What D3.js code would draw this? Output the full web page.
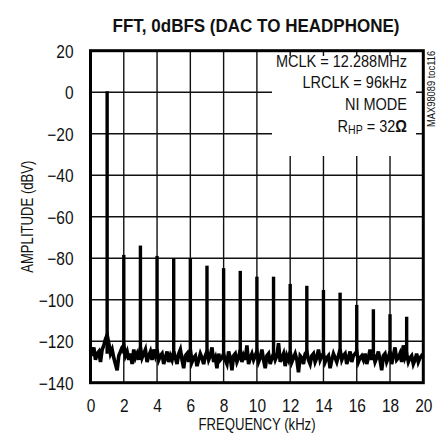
<!DOCTYPE html>
<html>
<head>
<meta charset="utf-8">
<script src="https://cdn.jsdelivr.net/npm/d3@7"></script>
<style>
  body { margin: 0; background: #fff; }
  svg text { font-family: "Liberation Sans", Arial, sans-serif; fill: #111; }
</style>
</head>
<body>
<svg id="chart" width="438" height="442"></svg>
<script>
// tick values
const freqTicks = [0, 2, 4, 6, 8, 10, 12, 14, 16, 18, 20];
const ampTicks = [20, 0, -20, -40, -60, -80, -100, -120, -140];

// fundamental + harmonics (kHz, dBV)
const toneFreqs = [1, 2, 3, 4, 5, 6, 7, 8, 9, 10, 11, 12, 13, 14, 15, 16, 17, 18, 19];
const toneLevels = [0.5, -78.4, -73.9, -78.9, -80, -80, -83.6, -84.8, -86.1, -88.9,
  -88.9, -92.4, -93.3, -95.3, -96.6, -102.5, -104.6, -107, -108.2];

// noise floor, one reading every 0.1 kHz from 0 to 20 kHz
const noiseFloor = [
  -124, -127, -123, -129, -126, -125, -130, -124, -122, -119,
  -117, -121, -126, -124, -128, -131, -134, -127, -125, -123,
  -122, -127, -125, -129, -126, -131, -124, -128, -126, -129,
  -123, -128, -126, -124, -130, -127, -125, -129, -124, -127,
  -124, -129, -127, -126, -131, -128, -125, -130, -127, -129,
  -125, -128, -131, -126, -124, -129, -133, -127, -126, -130,
  -124, -130, -128, -127, -132, -129, -126, -128, -131, -127,
  -125, -129, -127, -123, -130, -128, -133, -126, -129, -128,
  -126, -129, -131, -125, -128, -134, -127, -126, -130, -128,
  -124, -130, -127, -129, -122, -131, -128, -126, -129, -127,
  -125, -130, -128, -124, -129, -133, -127, -126, -131, -128,
  -126, -129, -127, -121, -130, -128, -126, -132, -127, -129,
  -125, -130, -128, -126, -129, -135, -127, -128, -131, -126,
  -125, -129, -131, -127, -126, -130, -128, -124, -129, -127,
  -126, -130, -128, -127, -133, -129, -126, -128, -130, -127,
  -124, -129, -127, -126, -131, -128, -125, -130, -127, -126,
  -125, -130, -128, -127, -129, -126, -131, -128, -124, -129,
  -126, -130, -128, -125, -129, -134, -127, -126, -130, -128,
  -125, -131, -127, -123, -129, -128, -126, -130, -122, -128,
  -126, -130, -128, -127, -131, -129, -126, -130, -128, -127,
  -128
];

const svg = d3.select("#chart");
const plotL = 90.5, plotR = 423.3, plotT = 50.7, plotB = 382.7;

const x = d3.scaleLinear().domain([0, 20]).range([plotL, plotR]);
const y = d3.scaleLinear().domain([-140, 20]).range([plotB, plotT]);

// condensed look: squeeze glyphs horizontally
function label(parent, px, py, txt, size, sx, anchor) {
  return parent.append("text")
    .attr("transform", `translate(${px},${py}) scale(${sx},1)`)
    .attr("text-anchor", anchor || "start")
    .style("font-size", size + "px")
    .text(txt);
}

// grid
svg.append("g")
  .selectAll("line")
  .data(freqTicks.slice(1, -1))
  .enter()
  .append("line")
  .attr("x1", d => x(d)).attr("x2", d => x(d))
  .attr("y1", plotT).attr("y2", plotB)
  .attr("stroke", "#111").attr("stroke-width", 1.4);

svg.append("g")
  .selectAll("line")
  .data(ampTicks.slice(1, -1))
  .enter()
  .append("line")
  .attr("x1", plotL).attr("x2", plotR)
  .attr("y1", d => y(d)).attr("y2", d => y(d))
  .attr("stroke", "#111").attr("stroke-width", 1.4);

// legend box hides the grid behind it
svg.append("rect")
  .attr("x", 272).attr("y", 56)
  .attr("width", 144).attr("height", 100)
  .attr("fill", "#fff");

// noise floor
const noiseLine = d3.line()
  .x((d, i) => x(i * 0.1))
  .y(d => y(d));

svg.append("path")
  .datum(noiseFloor)
  .attr("d", noiseLine)
  .attr("fill", "none")
  .attr("stroke", "#000")
  .attr("stroke-width", 3.6)
  .attr("stroke-linejoin", "miter");

// tones
svg.append("g")
  .selectAll("line")
  .data(toneFreqs)
  .enter()
  .append("line")
  .attr("x1", d => x(d)).attr("x2", d => x(d))
  .attr("y1", y(-126))
  .attr("y2", (d, i) => y(toneLevels[i]))
  .attr("stroke", "#000")
  .attr("stroke-width", 3.4);

// frame
svg.append("rect")
  .attr("x", plotL).attr("y", plotT)
  .attr("width", plotR - plotL).attr("height", plotB - plotT)
  .attr("fill", "none")
  .attr("stroke", "#000")
  .attr("stroke-width", 3);

// axes labels
const xAxis = svg.append("g")
  .attr("transform", `translate(0,${plotB})`)
  .call(d3.axisBottom(x).tickValues(freqTicks).tickSize(0).tickPadding(0));
xAxis.select(".domain").remove();
xAxis.selectAll("text")
  .attr("y", null).attr("dy", null)
  .attr("transform", "translate(0,29.5) scale(0.86,1)")
  .style("font-size", "18px");

const yAxis = svg.append("g")
  .attr("transform", `translate(${plotL},0)`)
  .call(d3.axisLeft(y).tickValues(ampTicks).tickSize(0).tickPadding(0));
yAxis.select(".domain").remove();
yAxis.selectAll("text")
  .attr("x", null).attr("dy", null)
  .attr("transform", "translate(-17,6.5) scale(0.86,1)")
  .style("font-size", "18px");

// titles
label(svg, 256, 31.7, "FFT, 0dBFS (DAC TO HEADPHONE)", 18.6, 0.915, "middle")
  .style("font-weight", "bold");

label(svg, 257, 430, "FREQUENCY (kHz)", 16, 0.82, "middle");

svg.append("text")
  .attr("transform", "translate(33.3,216.7) rotate(-90) scale(0.82,1)")
  .attr("text-anchor", "middle")
  .style("font-size", "16px")
  .text("AMPLITUDE (dBV)");

svg.append("text")
  .attr("transform", "translate(435,127) rotate(-90) scale(0.85,1)")
  .style("font-size", "11px")
  .text("MAX98089 toc116");

// conditions
const legend = svg.append("g");
label(legend, 407, 66.5, "MCLK = 12.288MHz", 16.5, 0.88, "end");
label(legend, 407, 88.2, "LRCLK = 96kHz", 16.5, 0.88, "end");
label(legend, 407, 110, "NI MODE", 16.5, 0.88, "end");
const rhp = label(legend, 407, 131.7, "", 16.5, 0.88, "end");
rhp.append("tspan").text("R");
rhp.append("tspan").attr("dy", 1.8).style("font-size", "12px").text("HP");
rhp.append("tspan").attr("dy", -1.8).text(" = 32");
rhp.append("tspan").style("font-weight", "bold").text("Ω");
</script>
</body>
</html>
